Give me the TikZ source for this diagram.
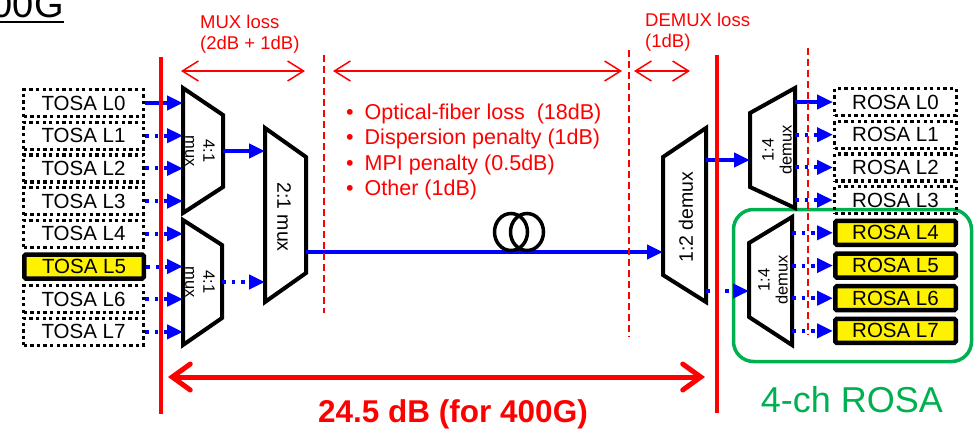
\documentclass[tikz,border=0pt]{standalone}
\usepackage{fontspec}
\setmainfont{Liberation Sans}
\usetikzlibrary{arrows.meta}
\definecolor{chgreen}{RGB}{0,176,80}

\begin{document}
\begin{tikzpicture}[x=1pt,y=-1pt,
  lane/.style={blue,line width=4pt,-{Triangle[length=16pt,width=14pt]}},
  lanedot/.style={lane,dash pattern=on 3.5pt off 6pt},
  dotbox/.style={draw,line width=3.3pt,dash pattern=on 3.3pt off 3.3pt,minimum width=119.7pt,minimum height=27pt,inner sep=1pt,font=\fontsize{20.5}{24}\selectfont},
  litbox/.style={draw,line width=4.5pt,fill=yellow,rounded corners=1.5pt,minimum width=119.5pt,minimum height=24pt,inner sep=1pt,font=\fontsize{20.5}{24}\selectfont},
  trap/.style={line width=4pt},
  trlabel/.style={font=\fontsize{16.5}{18}\selectfont,align=center,inner sep=0pt},
  budget/.style={red,line width=2pt,dash pattern=on 7pt off 4pt},
  span/.style={red,line width=1.5pt,{Straight Barb[length=16pt,width=20pt]}-{Straight Barb[length=16pt,width=20pt]}},
  losstext/.style={red,font=\fontsize{18.5}{21.5}\selectfont,align=left,inner sep=0pt,anchor=west}]
			\useasboundingbox (0,0) rectangle (974,429);
			% title, cut at the page edge
			\node[anchor=base east,inner sep=0pt,font=\fontsize{38}{40}\selectfont] (title) at (63.8,17) {400G};
			\draw[line width=2pt] (title.west |- 0,22) -- (title.east |- 0,22);
			% 4-ch ROSA frame
			\draw[chgreen,line width=3.5pt,rounded corners=20pt] (733.5,209.5) rectangle (971.5,361.5);
			\node[chgreen,font=\fontsize{36}{40}\selectfont,inner sep=0pt] (rosalabel) at (852,400) {4-ch ROSA};
			% transmitters
			\node[dotbox] (t0) at (83.5,103) {TOSA L0};
			\node[dotbox] (t1) at (83.5,135.7) {TOSA L1};
			\node[dotbox] (t2) at (83.5,168.4) {TOSA L2};
			\node[dotbox] (t3) at (83.5,201.1) {TOSA L3};
			\node[dotbox] (t4) at (83.5,233.8) {TOSA L4};
			\node[litbox] (t5) at (84,266.5) {TOSA L5};
			\node[dotbox] (t6) at (83.5,299.2) {TOSA L6};
			\node[dotbox] (t7) at (83.5,331.9) {TOSA L7};
			% receivers
			\node[dotbox,minimum width=121.7pt] (r0) at (895.5,102) {ROSA L0};
			\node[dotbox,minimum width=121.7pt] (r1) at (895.5,134.7) {ROSA L1};
			\node[dotbox,minimum width=121.7pt] (r2) at (895.5,167.4) {ROSA L2};
			\node[dotbox,minimum width=121.7pt] (r3) at (895.5,200.1) {ROSA L3};
			\node[litbox,minimum width=120.5pt] (r4) at (895.5,232.8) {ROSA L4};
			\node[litbox,minimum width=120.5pt] (r5) at (895.5,265.5) {ROSA L5};
			\node[litbox,minimum width=120.5pt] (r6) at (895.5,298.2) {ROSA L6};
			\node[litbox,minimum width=120.5pt] (r7) at (895.5,330.9) {ROSA L7};
			% mux / demux blocks
			\draw[trap] (183,88) -- (223,115) -- (223,187) -- (183,213) -- cycle;
			\draw[trap] (183,220) -- (222,245) -- (222,318) -- (183,345) -- cycle;
			\draw[trap] (265,128) -- (306,157) -- (306,273) -- (265,302) -- cycle;
			\draw[trap] (663,157) -- (706,128) -- (706,302) -- (663,275) -- cycle;
			\draw[trap] (750,113) -- (795,88) -- (795,208) -- (750,187) -- cycle;
			\draw[trap] (749,243) -- (792,217) -- (792,345) -- (749,317) -- cycle;
			\node[trlabel,rotate=-90] (muxA) at (200,151) {4:1\\mux};
			\node[trlabel,rotate=-90] (muxB) at (200,282) {4:1\\mux};
			\node[trlabel,rotate=-90,font=\fontsize{19.5}{21}\selectfont] (muxC) at (284,217) {2:1 mux};
			\node[trlabel,rotate=90,font=\fontsize{19.5}{21}\selectfont] (dmxA) at (686,217) {1:2 demux};
			\node[trlabel,rotate=90] (dmxB) at (777,150) {1:4\\demux};
			\node[trlabel,rotate=90] (dmxC) at (773,280) {1:4\\demux};
			% ports
			\coordinate (muxAin) at (183,0);
			\coordinate (muxAout) at (223,151);
			\coordinate (muxBout) at (222,282);
			\coordinate (muxCin) at (265,0);
			\coordinate (muxCout) at (306,252);
			\coordinate (dmxAin) at (663,252);
			\coordinate (dmxAup) at (706,160);
			\coordinate (dmxAlo) at (706,291);
			\coordinate (dmxBin) at (750,0);
			\coordinate (dmxCin) at (749,0);
			\coordinate (dmxBout) at (795,0);
			\coordinate (dmxCout) at (792,0);
			% lanes
			\draw[lane] (t0.east) -- (t0.east -| muxAin);
			\draw[lanedot] (t1.east) -- (t1.east -| muxAin);
			\draw[lanedot] (t2.east) -- (t2.east -| muxAin);
			\draw[lanedot] (t3.east) -- (t3.east -| muxAin);
			\draw[lanedot] (t4.east) -- (t4.east -| muxAin);
			\draw[lanedot] (t5.east) -- (t5.east -| muxAin);
			\draw[lanedot] (t6.east) -- (t6.east -| muxAin);
			\draw[lanedot] (t7.east) -- (t7.east -| muxAin);
			\draw[lane] (muxAout) -- (muxAout -| muxCin);
			\draw[lanedot] (muxBout) -- (muxBout -| muxCin);
			\draw[lane] (muxCout) -- (dmxAin);
			\draw[lane] (dmxAup) -- (dmxAup -| dmxBin);
			\draw[lanedot] (dmxAlo) -- (dmxAlo -| dmxCin);
			\draw[lane] (r0.west -| dmxBout) -- (r0.west);
			\draw[lanedot] (r1.west -| dmxBout) -- (r1.west);
			\draw[lanedot] (r2.west -| dmxBout) -- (r2.west);
			\draw[lanedot] (r3.west -| dmxBout) -- (r3.west);
			\draw[lanedot] (r4.west -| dmxCout) -- (r4.west);
			\draw[lanedot] (r5.west -| dmxCout) -- (r5.west);
			\draw[lanedot] (r6.west -| dmxCout) -- (r6.west);
			\draw[lanedot] (r7.west -| dmxCout) -- (r7.west);
			% fiber coil
			\draw[line width=3.5pt] (511,232) ellipse (16.5 and 18.5);
			\draw[line width=3.5pt] (527,232) ellipse (16.5 and 18.5);
			% loss budget
			\draw[budget] (324,55) -- (324,313);
			\draw[budget] (629,50) -- (629,337);
			\draw[budget] (808,48) -- (808,335);
			\draw[red,line width=4pt] (161,57) -- (161,414);
			\draw[red,line width=4pt] (717,55) -- (717,413);
			\draw[span] (181,71) -- (305,71);
			\draw[span] (333,71) -- (622,71);
			\draw[span] (634,71) -- (690,71);
			\node[losstext] (muxloss) at (200,34.2) {MUX loss\\(2dB + 1dB)};
			\node[losstext] (dmxloss) at (645,32) {DEMUX loss\\(1dB)};
			\node[losstext,font=\fontsize{21.5}{25.5}\selectfont] (fiberloss) at (346,152) {\textbullet\hspace{11pt}Optical-fiber loss\ \ (18dB)\\\textbullet\hspace{11pt}Dispersion penalty (1dB)\\\textbullet\hspace{11pt}MPI penalty (0.5dB)\\\textbullet\hspace{11pt}Other (1dB)};
			\draw[red,line width=5pt,{Straight Barb[length=18pt,width=26pt,line cap=round]}-{Straight Barb[length=18pt,width=26pt,line cap=round]}] (168,377) -- (705,377);
			\node[red,anchor=base,inner sep=0pt,font=\fontsize{31.5}{34}\bfseries\selectfont] (total) at (453,422) {24.5 dB (for 400G)};
		\end{tikzpicture}
\end{document}
